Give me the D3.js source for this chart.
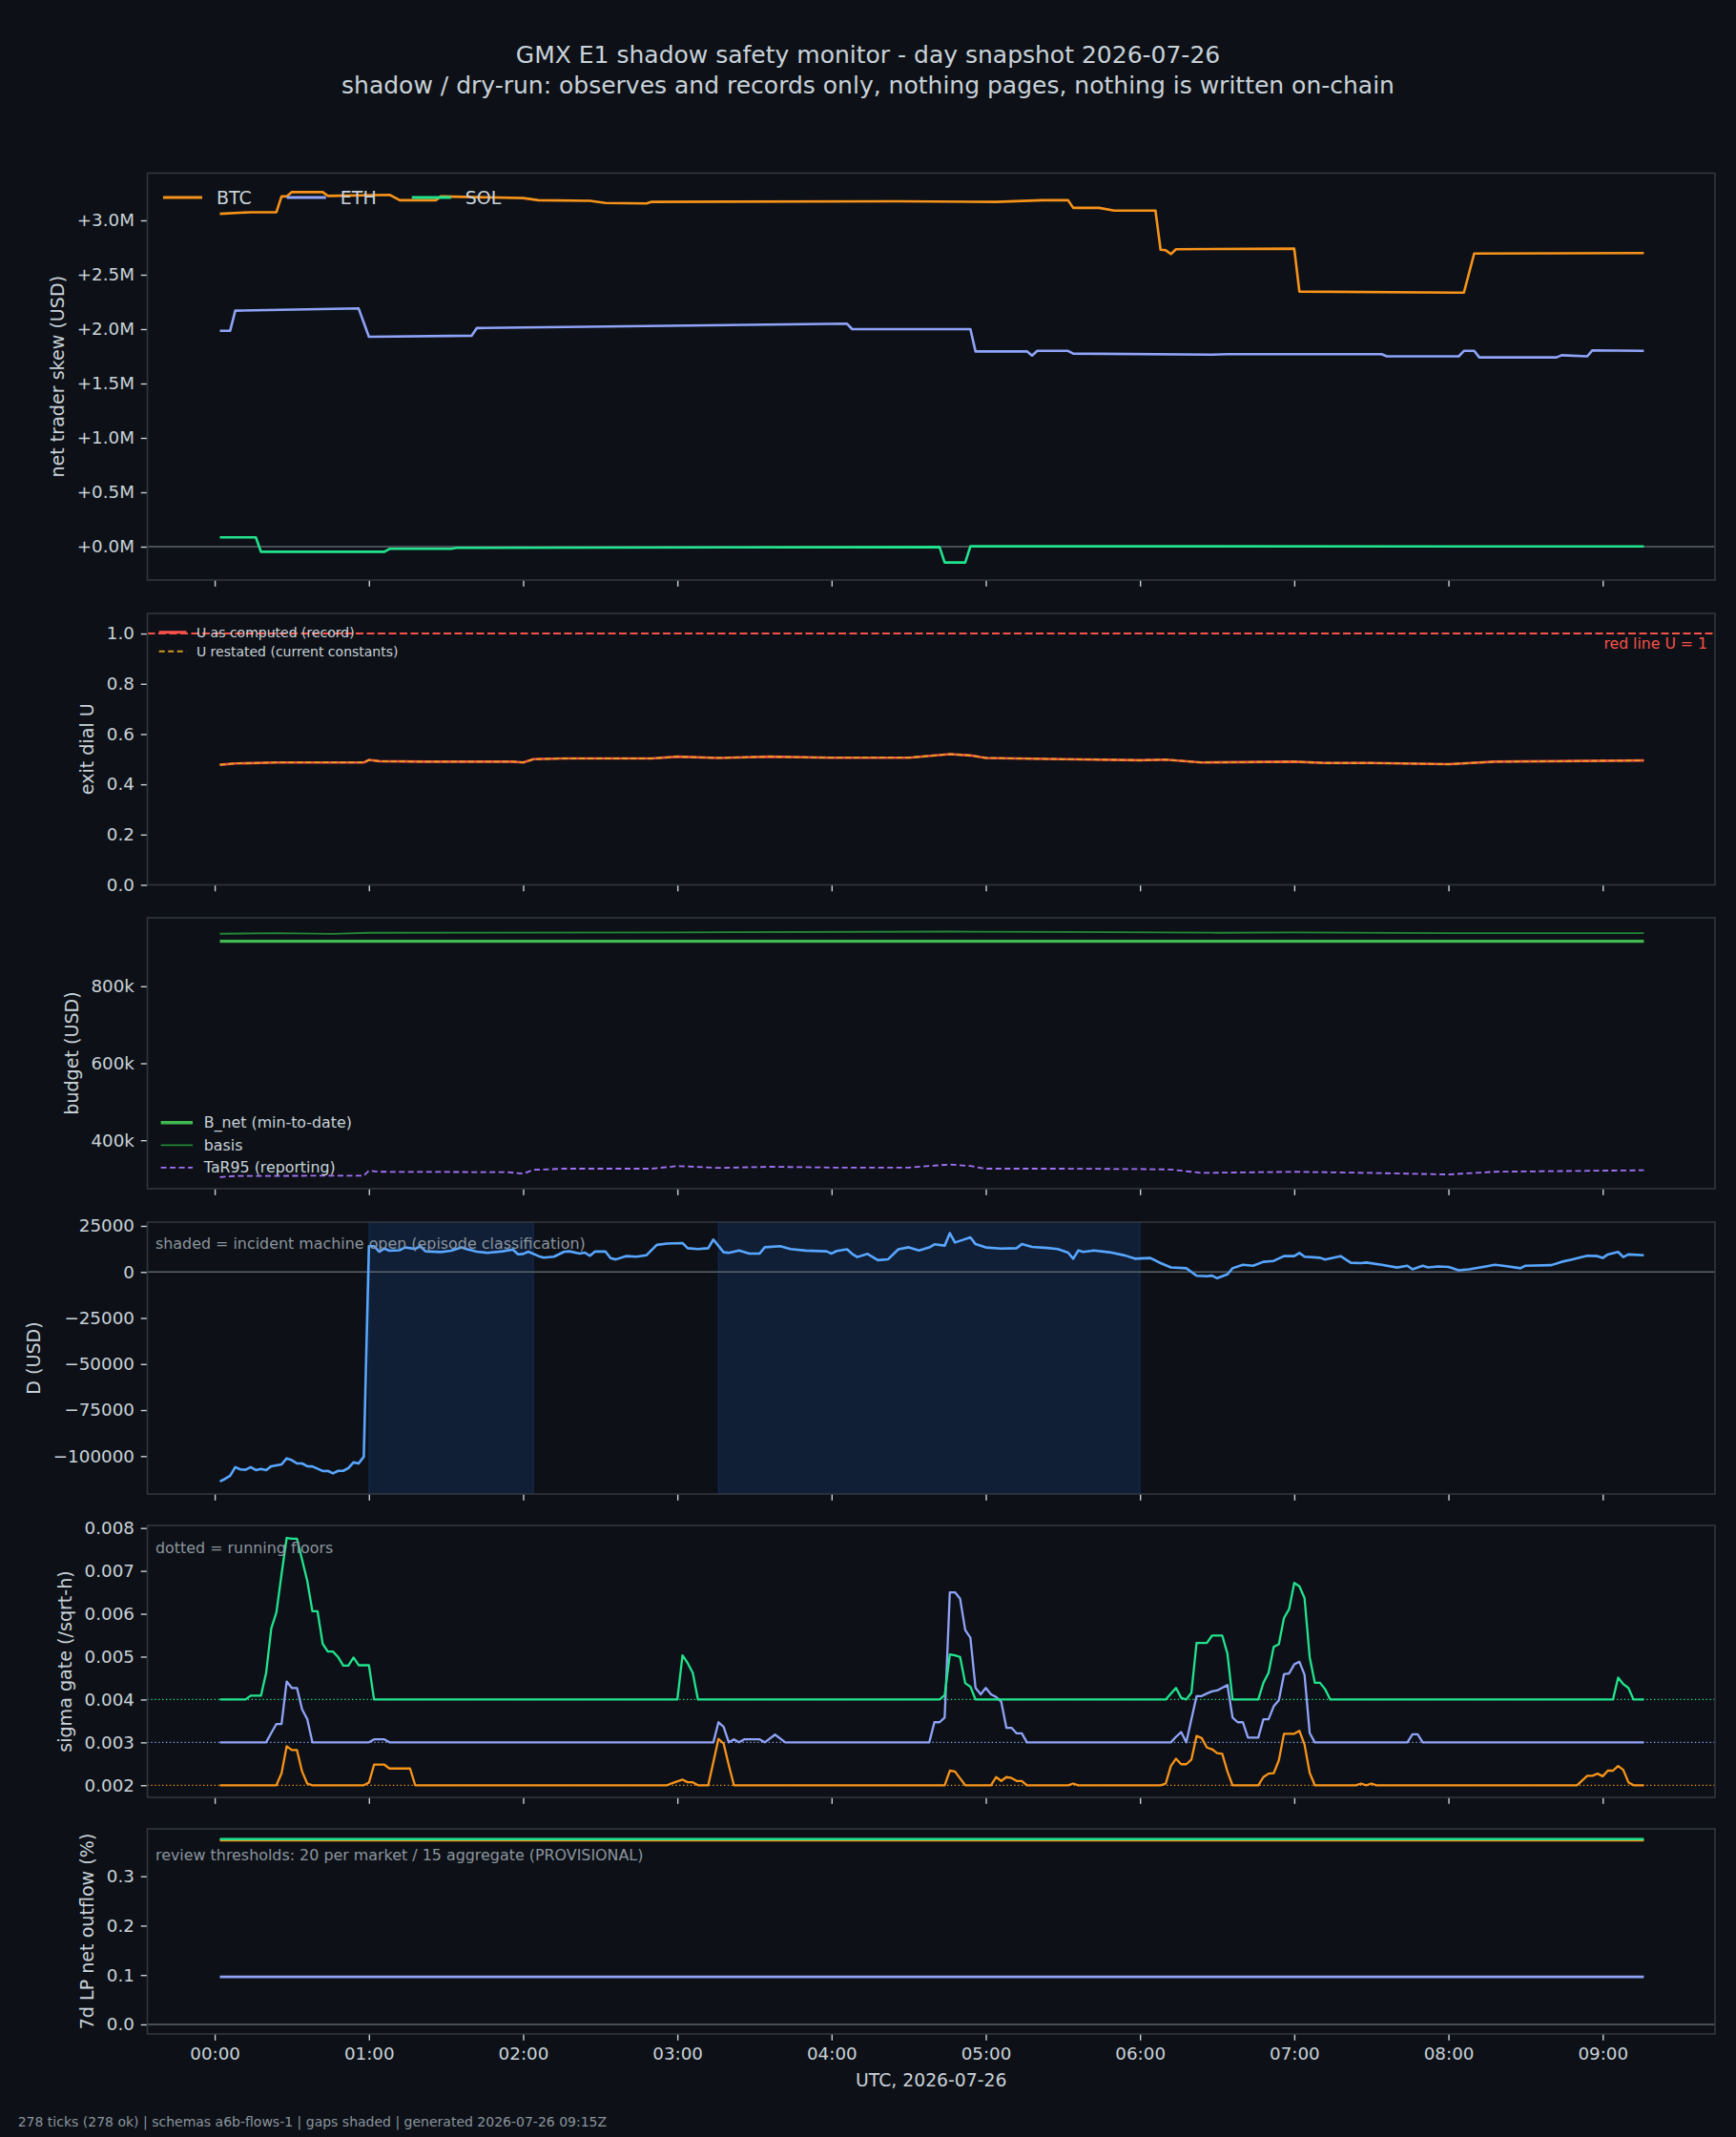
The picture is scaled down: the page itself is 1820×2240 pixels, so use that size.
<!DOCTYPE html>
<html lang="en">
<head>
<meta charset="utf-8">
<title>GMX E1 shadow safety monitor - day snapshot</title>
<script src="https://d3js.org/d3.v7.min.js"></script>
<style>
  body { margin: 0; background: #0d1117; }
  svg { display: block; font-family: "DejaVu Sans", sans-serif; }
</style>
</head>
<body>
<script>
// ---- data: [minutes after 00:00 UTC, value] ----
var hourTicks = ["00:00","01:00","02:00","03:00","04:00","05:00","06:00","07:00","08:00","09:00"];

// net trader skew, USD millions
var skewBTC = [[2,3.06],[14,3.075],[24,3.075],[26,3.22],[28,3.22],[30,3.26],[42,3.26],[44,3.225],[68,3.235],[72,3.185],[86,3.185],[88,3.22],[120,3.205],[126,3.185],[146,3.18],[152,3.16],[168,3.155],[170,3.17],[266,3.175],[304,3.17],[322,3.185],[332,3.185],[334,3.115],[344,3.115],[350,3.09],[366,3.09],[368,2.73],[370,2.725],[372,2.69],[374,2.735],[420,2.74],[422,2.345],[486,2.335],[490,2.695],[556,2.70]];
var skewETH = [[2,1.985],[6,1.985],[8,2.17],[56,2.19],[60,1.93],[100,1.94],[102,2.01],[176,2.03],[246,2.05],[248,2.0],[294,2.0],[296,1.795],[316,1.795],[318,1.757],[320,1.80],[332,1.80],[334,1.775],[388,1.765],[394,1.77],[454,1.77],[456,1.75],[484,1.75],[486,1.80],[490,1.80],[492,1.74],[522,1.74],[524,1.76],[534,1.75],[536,1.805],[556,1.80]];
var skewSOL = [[2,0.085],[16,0.085],[18,-0.047],[66,-0.047],[68,-0.02],[92,-0.02],[94,-0.011],[282,-0.003],[284,-0.146],[292,-0.146],[294,0.004],[556,0.002]];

// exit dial U
var uRecord = [[2,0.478],[8,0.483],[24,0.487],[58,0.487],[60,0.497],[64,0.492],[82,0.49],[116,0.49],[120,0.487],[124,0.50],[136,0.503],[170,0.503],[180,0.51],[196,0.505],[216,0.51],[240,0.506],[270,0.506],[286,0.52],[294,0.515],[300,0.505],[330,0.50],[360,0.496],[370,0.498],[384,0.487],[420,0.49],[432,0.485],[450,0.485],[480,0.48],[498,0.49],[556,0.495]];
var uRestated = uRecord;

// budget, USD thousands
var bNet = [[2,917],[556,917]];
var basis = [[2,936.5],[24,938],[46,936],[60,939],[180,940],[286,942],[330,941],[390,939],[420,940],[480,938],[556,938]];
var tar95 = [[2,304],[8,307],[58,308],[60,321],[64,318],[114,317],[120,313],[124,323],[136,326],[170,326],[180,333],[196,328],[216,331],[240,329],[270,329],[286,337],[294,333],[300,326],[330,326],[360,325],[372,324],[384,315],[420,318],[450,315],[480,311],[498,318],[556,322]];

// D, USD thousands
var dUsd = [[2,-113.8],[4,-112.4],[6,-110.7],[8,-106],[10,-107.2],[12,-107.4],[14,-106],[16,-107.6],[18,-107],[20,-107.6],[22,-105.5],[26,-104.5],[28,-101.2],[30,-102.2],[32,-104],[34,-104],[36,-105.5],[38,-105.6],[42,-108.1],[44,-108],[46,-109.4],[48,-108],[50,-108],[52,-106.5],[54,-103.4],[56,-104],[58,-100.3],[60,14.0],[62,14],[64,11],[66,12.7],[68,11.5],[72,11.8],[74,13.3],[78,12.5],[80,14],[82,11.2],[88,10.8],[92,11.5],[96,13.3],[98,12.4],[102,11],[106,10.4],[112,11.2],[116,12.2],[118,9.6],[120,9.8],[122,11],[126,8.6],[128,7.8],[132,8.3],[136,11],[138,11.2],[142,10],[144,10.5],[146,8.8],[148,11.1],[152,11.1],[154,7.5],[156,6.8],[160,8.6],[164,8.3],[168,9.1],[172,14.7],[176,15.4],[182,15.7],[184,12.9],[188,12.4],[192,12.9],[194,17.6],[198,10.7],[200,10.4],[204,11.7],[208,10],[212,10],[214,13.4],[220,14],[224,12.4],[230,11.6],[238,11.2],[240,10],[242,11.4],[246,12.3],[248,9.8],[250,8.1],[254,9.8],[256,8.1],[258,6.4],[262,6.9],[266,12.3],[270,13.4],[274,11.7],[278,13.3],[280,15],[284,14.3],[286,21.1],[288,16],[290,16.9],[294,18.8],[296,15.1],[300,13.3],[306,12.7],[312,12.9],[314,15.1],[318,13.6],[324,13],[328,12.4],[332,10.5],[334,7.2],[336,11.7],[338,10.9],[342,11.7],[348,10.7],[354,9.0],[358,7.2],[364,7.6],[368,4.8],[372,2.5],[378,2.0],[382,-2.1],[386,-2.3],[388,-2.0],[390,-3.4],[394,-1.3],[396,2.0],[400,3.9],[404,3.4],[408,5.5],[412,6.0],[416,8.6],[420,8.6],[422,10.3],[424,8.3],[430,7.7],[432,6.7],[438,8.6],[442,5.0],[446,4.8],[448,5.1],[454,3.9],[460,2.4],[464,3.4],[466,1.4],[470,3.4],[472,2.5],[476,3.0],[480,2.7],[484,0.9],[488,1.4],[494,2.9],[498,3.9],[502,3.2],[508,2.0],[510,3.4],[520,3.7],[524,5.5],[528,6.7],[534,8.8],[538,8.6],[540,7.6],[542,9.5],[546,10.9],[548,8.1],[550,9.5],[556,9.1]];
var incidentEpisodes = [[60,124],[196,360]];

// sigma gate (/sqrt-h) and running floors
var sigmaSOL = [[2,.004],[12,.004],[14,.00409],[18,.00409],[20,.00462],[22,.00566],[24,.00603],[26,.00692],[28,.00777],[30,.00775],[32,.00775],[34,.00726],[36,.00677],[38,.00606],[40,.00606],[42,.0053],[44,.00512],[46,.00512],[48,.00499],[50,.00479],[52,.00479],[54,.00498],[56,.0048],[60,.0048],[62,.004],[180,.004],[182,.00503],[184,.00485],[186,.00462],[188,.004],[282,.004],[284,.0041],[286,.00505],[288,.00503],[290,.00499],[292,.00438],[294,.0043],[296,.004],[370,.004],[374,.00427],[376,.00404],[378,.004],[380,.00416],[382,.00532],[386,.00532],[388,.00549],[392,.00549],[394,.00507],[396,.004],[406,.004],[408,.00439],[410,.00462],[412,.00523],[414,.00529],[416,.0059],[418,.00611],[420,.00672],[422,.00664],[424,.00637],[426,.00499],[428,.00439],[430,.00439],[432,.00424],[434,.004],[544,.004],[546,.00451],[548,.00436],[550,.00427],[552,.004],[556,.004]];
var sigmaETH = [[2,.003],[20,.003],[22,.00322],[24,.00343],[26,.00343],[28,.00442],[30,.00427],[32,.00427],[34,.00377],[36,.00354],[38,.003],[60,.003],[62,.00307],[66,.00307],[68,.003],[194,.003],[196,.00347],[198,.00336],[200,.003],[202,.00307],[204,.003],[206,.00307],[212,.00307],[214,.003],[218,.00318],[222,.003],[278,.003],[280,.00347],[282,.00347],[284,.00358],[286,.0065],[288,.0065],[290,.00635],[292,.00562],[294,.00544],[296,.00427],[298,.00412],[300,.00427],[302,.00412],[304,.00406],[306,.00395],[308,.00334],[310,.00334],[312,.00321],[314,.00321],[316,.003],[372,.003],[374,.00313],[376,.00324],[378,.003],[380,.00354],[382,.00408],[384,.00408],[386,.00414],[388,.00419],[390,.00421],[394,.00434],[396,.00358],[398,.00347],[400,.00347],[402,.00311],[406,.00311],[408,.00354],[410,.00354],[412,.00384],[414,.00398],[416,.00459],[418,.00461],[420,.00482],[422,.00488],[424,.00458],[426,.00322],[428,.003],[464,.003],[466,.00319],[468,.00319],[470,.003],[556,.003]];
var sigmaBTC = [[2,.002],[24,.002],[26,.00228],[28,.00291],[30,.00282],[32,.00282],[34,.00232],[36,.00204],[38,.002],[58,.002],[60,.00206],[62,.00248],[66,.00248],[68,.00239],[76,.00239],[78,.002],[176,.002],[178,.00205],[182,.00213],[184,.00207],[186,.00207],[188,.002],[192,.002],[194,.00254],[196,.00308],[198,.00297],[200,.00247],[202,.002],[284,.002],[286,.00234],[288,.00232],[290,.00216],[292,.002],[302,.002],[304,.00219],[306,.0021],[308,.00219],[310,.00217],[312,.0021],[314,.0021],[316,.002],[332,.002],[334,.00204],[336,.002],[368,.002],[370,.00204],[372,.00245],[374,.00262],[376,.00249],[378,.00249],[380,.0026],[382,.00315],[384,.0031],[386,.00288],[388,.00284],[390,.00275],[392,.00273],[394,.00232],[396,.002],[406,.002],[408,.00219],[410,.00227],[412,.00228],[414,.00258],[416,.0032],[420,.0032],[422,.00327],[424,.00295],[426,.00229],[428,.002],[444,.002],[446,.00204],[448,.002],[450,.00204],[452,.002],[530,.002],[534,.00222],[536,.00222],[538,.00227],[540,.00221],[542,.00234],[544,.00234],[546,.00245],[548,.00236],[550,.00207],[552,.002],[556,.002]];
var sigmaFloors = {SOL: 0.004, ETH: 0.003, BTC: 0.002};

// 7d LP net outflow (%)
var lpBTC = [[2,0.3728],[556,0.3728]];
var lpETH = [[2,0.0962],[556,0.0962]];
var lpSOL = [[2,0.3752],[556,0.3752]];

var col = {BTC: "#f7931a", ETH: "#8fa3f8", SOL: "#22e38d", text: "#c9d1d9", muted: "#8b949e",
           spine: "#30363d", bg: "#0d1117", zero: "#5c636b"};

// ---- layout ----
var W = 1820, H = 2240;
var left = 154.5, right = 1798;
var svg = d3.select("body").append("svg").attr("width", W).attr("height", H);
svg.append("rect").attr("width", W).attr("height", H).attr("fill", col.bg);

var day0 = Date.UTC(2026, 6, 26);
function t(m) { return new Date(day0 + m * 60000); }
var x = d3.scaleUtc().domain([t(-26.2), t(583.7)]).range([left, right]);

svg.append("text").attr("x", W / 2).attr("y", 57).attr("text-anchor", "middle")
   .attr("dominant-baseline", "central").attr("font-size", 25).attr("fill", col.text)
   .text("GMX E1 shadow safety monitor - day snapshot 2026-07-26");
svg.append("text").attr("x", W / 2).attr("y", 89).attr("text-anchor", "middle")
   .attr("dominant-baseline", "central").attr("font-size", 25).attr("fill", col.text)
   .text("shadow / dry-run: observes and records only, nothing pages, nothing is written on-chain");

var clipId = 0;
function panel(cfg) {
    var g = svg.append("g");
    var y = d3.scaleLinear().domain(cfg.domain).range([cfg.bottom, cfg.top]);
    var id = "clip" + (clipId++);
    g.append("clipPath").attr("id", id).append("rect")
        .attr("x", left).attr("y", cfg.top).attr("width", right - left).attr("height", cfg.bottom - cfg.top);
    var plot = g.append("g").attr("clip-path", "url(#" + id + ")");

    var xa = g.append("g").attr("transform", "translate(0," + cfg.bottom + ")")
        .call(d3.axisBottom(x).ticks(d3.utcHour.every(1)).tickSize(6.8).tickPadding(6.8)
              .tickFormat(function (d, i) { return cfg.last ? hourTicks[i] : ""; }));
    var ya = g.append("g").attr("transform", "translate(" + left + ",0)")
        .call(d3.axisLeft(y).tickValues(cfg.ticks).tickFormat(cfg.fmt).tickSize(6.8).tickPadding(6.8));
    [xa, ya].forEach(function (a) {
        a.select(".domain").remove();
        a.selectAll("line").attr("stroke", col.text).attr("stroke-width", 1.4);
        a.selectAll("text").attr("fill", col.text).attr("font-size", 18.3).attr("font-family", "DejaVu Sans");
    });
    var bb = ya.node().getBBox();
    g.append("text").attr("transform", "translate(" + (left + bb.x - 20) + "," + ((cfg.top + cfg.bottom) / 2) + ") rotate(-90)")
        .attr("text-anchor", "middle").attr("dominant-baseline", "central")
        .attr("font-size", 19.1).attr("fill", col.text).text(cfg.label);

    var line = d3.line().x(function (d) { return x(t(d[0])); }).y(function (d) { return y(d[1]); });
    return {g: g, plot: plot, y: y, line: line, cfg: cfg};
}
function frame(p) {
    p.g.append("rect").attr("x", left).attr("y", p.cfg.top).attr("width", right - left)
        .attr("height", p.cfg.bottom - p.cfg.top).attr("fill", "none")
        .attr("stroke", col.spine).attr("stroke-width", 1.6);
}
function hline(p, v, color, w, dash) {
    p.plot.append("line").attr("x1", left).attr("x2", right).attr("y1", p.y(v)).attr("y2", p.y(v))
        .attr("stroke", color).attr("stroke-width", w).attr("stroke-dasharray", dash || null);
}
function path(p, data, color, w, dash) {
    p.plot.append("path").datum(data).attr("d", p.line).attr("fill", "none")
        .attr("stroke", color).attr("stroke-width", w).attr("stroke-linejoin", "round")
        .attr("stroke-dasharray", dash || null);
}
function note(p, txt, yy) {
    p.g.append("text").attr("x", 163).attr("y", yy).attr("dominant-baseline", "central")
        .attr("font-size", 15.9).attr("fill", col.muted).text(txt);
}
function legendRows(p, items, x0, y0, dy, fs, hl) {
    items.forEach(function (it, i) {
        var yy = y0 + i * dy;
        p.g.append("line").attr("x1", x0).attr("x2", x0 + hl).attr("y1", yy).attr("y2", yy)
            .attr("stroke", it.color).attr("stroke-width", it.w).attr("stroke-dasharray", it.dash || null);
        p.g.append("text").attr("x", x0 + hl + fs * 0.75).attr("y", yy).attr("dominant-baseline", "central")
            .attr("font-size", fs).attr("fill", col.text).text(it.name);
    });
}

// ---- panel 1: net trader skew ----
var p1 = panel({top: 181.5, bottom: 608, domain: [-0.307, 3.434], ticks: [0, 0.5, 1, 1.5, 2, 2.5, 3],
    fmt: function (d) { return "+" + d3.format(".1f")(d) + "M"; }, label: "net trader skew (USD)"});
hline(p1, 0, col.zero, 1.4);
path(p1, skewBTC, col.BTC, 2.6);
path(p1, skewETH, col.ETH, 2.6);
path(p1, skewSOL, col.SOL, 2.6);
frame(p1);
(function () {
    var xx = 171, yy = 207;
    [["BTC", col.BTC], ["ETH", col.ETH], ["SOL", col.SOL]].forEach(function (s) {
        p1.g.append("line").attr("x1", xx).attr("x2", xx + 41).attr("y1", yy).attr("y2", yy)
            .attr("stroke", s[1]).attr("stroke-width", 3);
        var tx = p1.g.append("text").attr("x", xx + 56).attr("y", yy).attr("dominant-baseline", "central")
            .attr("font-size", 19).attr("fill", col.text).text(s[0]);
        xx = xx + 56 + tx.node().getComputedTextLength() + 37;
    });
})();

// ---- panel 2: exit dial U ----
var p2 = panel({top: 643, bottom: 927.5, domain: [0, 1.08], ticks: [0, 0.2, 0.4, 0.6, 0.8, 1.0],
    fmt: d3.format(".1f"), label: "exit dial U"});
hline(p2, 1, "#f85149", 2, "8,3.5");
path(p2, uRecord, "#f85149", 2.6);
path(p2, uRestated, "#e3a21a", 1.8, "6,3");
frame(p2);
p2.g.append("text").attr("x", 1790).attr("y", p2.y(1) + 4).attr("text-anchor", "end")
    .attr("dominant-baseline", "hanging").attr("font-size", 15.7).attr("fill", "#f85149").text("red line U = 1");
legendRows(p2, [{name: "U as computed (record)", color: "#f85149", w: 3},
                {name: "U restated (current constants)", color: "#d29922", w: 2, dash: "6,3.5"}],
           166.7, 662.7, 20, 14, 28.7);

// ---- panel 3: budget ----
var p3 = panel({top: 962, bottom: 1246, domain: [274, 978], ticks: [400, 600, 800],
    fmt: function (d) { return d + "k"; }, label: "budget (USD)"});
path(p3, basis, "#238636", 1.8);
path(p3, bNet, "#3fb950", 3.4);
path(p3, tar95, "#a371f7", 1.8, "6,3.5");
frame(p3);
legendRows(p3, [{name: "B_net (min-to-date)", color: "#3fb950", w: 3.4},
                {name: "basis", color: "#238636", w: 1.8},
                {name: "TaR95 (reporting)", color: "#a371f7", w: 1.8, dash: "6,3.5"}],
           168.6, 1176.7, 23.6, 15.8, 33.4);

// ---- panel 4: D ----
var p4 = panel({top: 1281, bottom: 1566, domain: [-120.57, 27.07], ticks: [-100, -75, -50, -25, 0, 25],
    fmt: function (d) { return d3.format("d")(d * 1000); }, label: "D (USD)"});
incidentEpisodes.forEach(function (e) {
    p4.plot.append("rect").attr("x", x(t(e[0]))).attr("width", x(t(e[1])) - x(t(e[0])))
        .attr("y", 1281).attr("height", 285).attr("fill", "#1f6feb").attr("fill-opacity", 0.15)
        .attr("stroke", "#1f6feb").attr("stroke-opacity", 0.2).attr("stroke-width", 1.2);
});
hline(p4, 0, col.zero, 1.4);
path(p4, dUsd, "#58a6ff", 2.6);
note(p4, "shaded = incident machine open (episode classification)", 1303);
frame(p4);

// ---- panel 5: sigma gate ----
var p5 = panel({top: 1599, bottom: 1884, domain: [0.001717, 0.00806],
    ticks: [0.002, 0.003, 0.004, 0.005, 0.006, 0.007, 0.008],
    fmt: d3.format(".3f"), label: "sigma gate (/sqrt-h)"});
hline(p5, sigmaFloors.SOL, col.SOL, 1.3, "1.3,2.6");
hline(p5, sigmaFloors.ETH, col.ETH, 1.3, "1.3,2.6");
hline(p5, sigmaFloors.BTC, col.BTC, 1.3, "1.3,2.6");
path(p5, sigmaBTC, col.BTC, 2.3);
path(p5, sigmaETH, col.ETH, 2.3);
path(p5, sigmaSOL, col.SOL, 2.3);
note(p5, "dotted = running floors", 1622);
frame(p5);

// ---- panel 6: LP net outflow ----
var p6 = panel({top: 1917, bottom: 2132, domain: [-0.0194, 0.396], ticks: [0, 0.1, 0.2, 0.3],
    fmt: d3.format(".1f"), label: "7d LP net outflow (%)", last: true});
hline(p6, 0, col.zero, 1.4);
path(p6, lpBTC, col.BTC, 2.7);
path(p6, lpETH, col.ETH, 2.7);
path(p6, lpSOL, col.SOL, 2.7);
note(p6, "review thresholds: 20 per market / 15 aggregate (PROVISIONAL)", 1944.5);
frame(p6);

svg.append("text").attr("x", (left + right) / 2).attr("y", 2180).attr("text-anchor", "middle")
   .attr("dominant-baseline", "central").attr("font-size", 18.8).attr("fill", col.text).text("UTC, 2026-07-26");
svg.append("text").attr("x", 18.7).attr("y", 2224).attr("dominant-baseline", "central")
   .attr("font-size", 14).attr("fill", col.muted)
   .text("278 ticks (278 ok) | schemas a6b-flows-1 | gaps shaded | generated 2026-07-26 09:15Z");
</script>
</body>
</html>
